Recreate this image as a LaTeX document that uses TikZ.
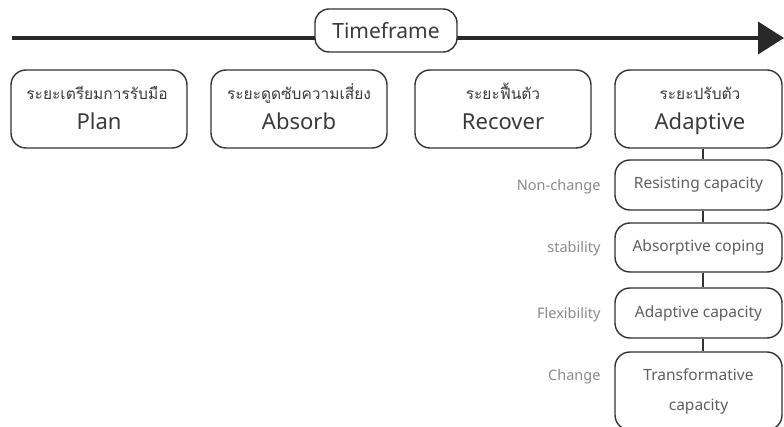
\documentclass[tikz,border=0pt]{standalone}
\usepackage{fontspec}
\setmainfont{Noto Sans}
\newfontfamily\thaifont[Script=Thai]{Loma}
\usetikzlibrary{arrows.meta,positioning}
\definecolor{edge}{HTML}{333333}
\definecolor{txtdark}{HTML}{3A3A3A}
\definecolor{txtmid}{HTML}{5E5E5E}
\definecolor{txtlight}{HTML}{8A8A8A}
\tikzset{
  phasebox/.style={draw=edge, line width=1.4pt, rounded corners=15pt,
    minimum width=176pt, minimum height=78pt, inner sep=0pt},
  thailine/.style={inner sep=0pt, text height=11pt, text depth=5pt, text=txtdark,
    font=\thaifont\fontsize{15.5}{18}\selectfont},
  engline/.style={inner sep=0pt, text height=16pt, text depth=5pt, text=txtdark,
    font=\fontsize{22}{24}\selectfont},
  capbox/.style={draw=edge, line width=1.4pt, rounded corners=15pt,
    minimum width=167pt, inner sep=0pt, align=center,
    text=txtmid, font=\fontsize{15.5}{30}\selectfont},
  sidelabel/.style={anchor=east, text=txtlight, font=\fontsize{14.5}{18}\selectfont},
  link/.style={draw=edge, line width=1.2pt}
}
\begin{document}
\begin{tikzpicture}[x=1pt,y=-1pt]
  \useasboundingbox (0,0) rectangle (784,427);

  % time axis
  \coordinate (axisstart) at (12,38);
  \coordinate (axisend) at (784,38);
  \draw[line width=4pt, draw=edge!80!black, -{Triangle[length=26pt,width=32pt]}] (axisstart) -- (axisend);
  \node[draw=edge, fill=white, line width=1.4pt, rounded corners=14pt,
        minimum width=142pt, minimum height=43pt, inner sep=0pt,
        font=\fontsize{21}{24}\selectfont, text=txtdark] (timeframe) at (386,30.5) {Timeframe};

  % phases
  \node[phasebox] (plan)     at (99,109)  {};
  \node[phasebox] (absorb)   at (299,109) {};
  \node[phasebox] (recover)  at (503,109) {};
  \node[phasebox, minimum width=167pt] (adaptive) at (698.5,109) {};

  \node[thailine] (planth)     at (97,97)    {ระยะเตรียมการรับมือ};
  \node[thailine] (absorbth)   at (299,97)   {ระยะดูดซับความเสี่ยง};
  \node[thailine] (recoverth)  at (503,97)   {ระยะฟื้นตัว};
  \node[thailine] (adaptiveth) at (700,97)   {ระยะปรับตัว};
  \node[engline]  (planen)     at (99,124)   {Plan};
  \node[engline]  (absorben)   at (299,124)  {Absorb};
  \node[engline]  (recoveren)  at (503,124)  {Recover};
  \node[engline]  (adaptiveen) at (700,124)  {Adaptive};

  % capacities
  \node[capbox, minimum height=50pt] (resist) at (698.5,185)   {Resisting capacity};
  \node[capbox, minimum height=49pt] (coping) at (698.5,247.5) {Absorptive coping};
  \node[capbox, minimum height=50pt] (adcap)  at (698.5,313)   {Adaptive capacity};
  \node[capbox, minimum height=78pt] (trans)  at (698.5,391)   {Transformative\\capacity};

  \draw[link] (adaptive.south -| 703,0) -- (resist.north -| 703,0);
  \draw[link] (resist.south -| 703,0) -- (coping.north -| 703,0);
  \draw[link] (coping.south -| 703,0) -- (adcap.north -| 703,0);
  \draw[link] (adcap.south -| 703,0) -- (trans.north -| 703,0);

  % side labels
  \node[sidelabel] (l1) at (604,187) {Non-change};
  \node[sidelabel] (l2) at (604,249) {stability};
  \node[sidelabel] (l3) at (604,315) {Flexibility};
  \node[sidelabel] (l4) at (604,377) {Change};
\end{tikzpicture}
\end{document}
